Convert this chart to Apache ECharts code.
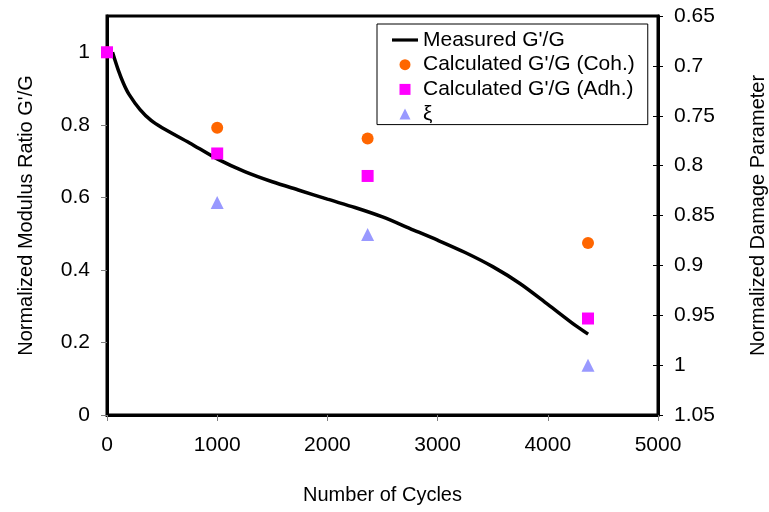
<!DOCTYPE html>
<html>
<head>
<meta charset="utf-8">
<script src="https://cdn.jsdelivr.net/npm/echarts@6/dist/echarts.min.js"></script>
<style>html,body{margin:0;padding:0;background:#fff}#c{width:769px;height:512px}</style>
</head>
<body>
<div id="c"></div>
<script>
// Measured G'/G curve [cycles, ratio]
var measuredCycles = [50, 100, 150, 200, 300, 400, 500, 750, 1000, 1250, 1500, 1750, 2000, 2250, 2500, 2750, 3000, 3250, 3500, 3750, 4000, 4250, 4366];
var measuredRatio  = [1.0, 0.953, 0.914, 0.884, 0.842, 0.812, 0.792, 0.750, 0.706, 0.671, 0.643, 0.619, 0.595, 0.572, 0.546, 0.514, 0.482, 0.448, 0.409, 0.362, 0.305, 0.247, 0.223];
// Calculated points
var cohCycles = [0, 1000, 2365, 4365];
var cohRatio  = [1.0, 0.792, 0.762, 0.474];
var adhCycles = [0, 1000, 2365, 4365];
var adhRatio  = [1.0, 0.721, 0.659, 0.266];
var xiCycles  = [1000, 2365, 4365];
var xiValue   = [0.837, 0.869, 1.0];
// Tick labels
var leftTicks = [0, 0.2, 0.4, 0.6, 0.8, 1];

function pairs(xs, ys){ return xs.map(function(x,i){ return [x, ys[i]]; }); }

var FONT = 'Liberation Sans, Arial, sans-serif';
var chart = echarts.init(document.getElementById('c'));
chart.setOption({
  animation: false,
  backgroundColor: '#fff',
  textStyle: {fontFamily: FONT},
  grid: {left: 107, top: 16, right: 111, bottom: 97, show: true, borderColor: '#000', borderWidth: 3,
    backgroundColor: 'transparent', containLabel: false, outerBoundsMode: 'none'},
  legend: {
    orient: 'vertical', left: 377, top: 24, padding: [5.5, 13, 0, 15], itemGap: 3.7,
    itemWidth: 26, itemHeight: 11, borderColor: '#000', borderWidth: 1, backgroundColor: '#fff',
    textStyle: {fontSize: 21, fontFamily: FONT, color: '#000', lineHeight: 21},
    data: [
      {name: "Measured G'/G", icon: 'path://M0,0L26,0L26,3.2L0,3.2Z'},
      {name: "Calculated G'/G (Coh.)", icon: 'circle'},
      {name: "Calculated G'/G (Adh.)", icon: 'path://M0,0L10,0L10,10L0,10Z'},
      {name: '\u03BE', icon: 'path://M5,0L10,10L0,10Z'}
    ]
  },
  xAxis: {
    type: 'value', min: 0, max: 5000, interval: 1000,
    name: 'Number of Cycles', nameLocation: 'middle', nameGap: 70,
    nameTextStyle: {fontSize: 20, color: '#000', fontFamily: FONT},
    axisLine: {show: true, lineStyle: {color: '#000', width: 3}},
    axisTick: {show: true, length: 6, lineStyle: {color: '#808080', width: 1}},
    axisLabel: {fontSize: 21, color: '#000', margin: 20, fontFamily: FONT,
      formatter: function(v){ return String(v); }},
    splitLine: {show: false}
  },
  yAxis: [
    {
      type: 'value', min: 0, max: 1.1, interval: 0.2, position: 'left',
      name: "Normalized Modulus Ratio G'/G", nameLocation: 'middle', nameGap: 71, nameRotate: 90,
      nameTextStyle: {fontSize: 20, color: '#000', fontFamily: FONT},
      axisLine: {show: true, lineStyle: {color: '#000', width: 3}},
      axisTick: {show: true, length: 6, lineStyle: {color: '#808080', width: 1}, customValues: leftTicks},
      axisLabel: {fontSize: 21, color: '#000', margin: 17, fontFamily: FONT, customValues: leftTicks},
      splitLine: {show: false}
    },
    {
      type: 'value', min: 0.65, max: 1.05, interval: 0.05, position: 'right', inverse: true,
      name: 'Normalized Damage Parameter', nameLocation: 'middle', nameGap: 90, nameRotate: 90,
      nameTextStyle: {fontSize: 20, color: '#000', fontFamily: FONT},
      axisLine: {show: true, lineStyle: {color: '#000', width: 3}},
      axisTick: {show: true, length: 5, lineStyle: {color: '#000', width: 1}},
      axisLabel: {fontSize: 21, color: '#000', margin: 16, fontFamily: FONT,
        formatter: function(v){ return String(Math.round(v*100)/100); }},
      splitLine: {show: false}
    },
    {
      type: 'value', min: 0.65, max: 1.05, interval: 0.05, position: 'right', inverse: true,
      axisLine: {show: false},
      axisTick: {show: true, inside: true, length: 5, lineStyle: {color: '#000', width: 1}},
      axisLabel: {show: false},
      splitLine: {show: false}
    }
  ],
  series: [
    {
      name: "Measured G'/G", type: 'line', yAxisIndex: 0, data: pairs(measuredCycles, measuredRatio),
      symbol: 'none', smooth: 0.3, lineStyle: {color: '#000', width: 3.5}, itemStyle: {color: '#000'}, z: 2
    },
    {
      name: "Calculated G'/G (Coh.)", type: 'scatter', yAxisIndex: 0, data: pairs(cohCycles, cohRatio),
      symbol: 'circle', symbolSize: 12, itemStyle: {color: '#FF6600', opacity: 1}, z: 3
    },
    {
      name: "Calculated G'/G (Adh.)", type: 'scatter', yAxisIndex: 0, data: pairs(adhCycles, adhRatio),
      symbol: 'rect', symbolSize: 12, itemStyle: {color: '#FF00FF', opacity: 1}, z: 4
    },
    {
      name: '\u03BE', type: 'scatter', yAxisIndex: 1, data: pairs(xiCycles, xiValue),
      symbol: 'triangle', symbolSize: 13, itemStyle: {color: '#9999FF', opacity: 1}, z: 3
    }
  ]
});
</script>
</body>
</html>
